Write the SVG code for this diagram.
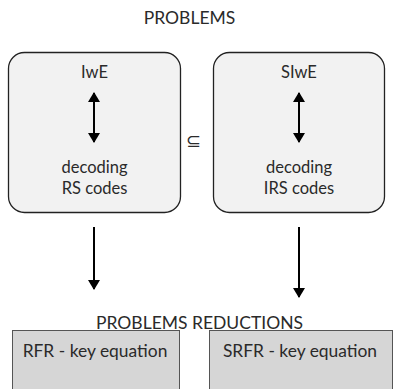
<svg xmlns="http://www.w3.org/2000/svg" width="396" height="389" viewBox="0 0 396 389">
<defs>
<marker id="ah" viewBox="0 0 10 12" refX="9" refY="6" markerWidth="10" markerHeight="12" markerUnits="userSpaceOnUse" orient="auto-start-reverse"><path d="M0,0 L10,6 L0,12 Z" fill="#000"/></marker>
<style>
text{font-family:Lato,"Open Sans",sans-serif;fill:#2a2a2a;text-anchor:middle}
.p{fill:#f2f2f2;stroke:#222;stroke-width:1.3}
.r{fill:#d6d6d6;stroke:#555;stroke-width:1}
.c{stroke:#000;stroke-width:2;fill:none}
.h{font-size:17.5px}
.t{font-size:16.5px}
.b{font-size:17.4px}
</style>
</defs>
<text class="h" x="189.5" y="24">PROBLEMS</text>
<g id="iwe">
<rect class="p" x="8.5" y="52.5" width="172" height="160" rx="16"/>
<text class="t" x="94.5" y="78">IwE</text>
<text class="t" x="94.5" y="173">decoding</text>
<text class="t" x="94.5" y="194">RS codes</text>
</g>
<g id="siwe">
<rect class="p" x="213.5" y="52.5" width="171" height="160" rx="16"/>
<text class="t" x="299" y="78">SIwE</text>
<text class="t" x="299" y="173">decoding</text>
<text class="t" x="299" y="194">IRS codes</text>
</g>
<text x="193.5" y="147" style="font-family:'DejaVu Sans',sans-serif;font-size:18px">⊆</text>
<text class="h" x="199.5" y="329">PROBLEMS REDUCTIONS</text>
<g id="rfr">
<rect class="r" x="12.5" y="330.5" width="167" height="70"/>
<text class="b" x="95" y="357">RFR - key equation</text>
</g>
<g id="srfr">
<rect class="r" x="209.5" y="330.5" width="183" height="70"/>
<text class="b" x="300" y="357">SRFR - key equation</text>
</g>
<g id="connectors">
<line class="c" x1="94" y1="93" x2="94" y2="142" marker-start="url(#ah)" marker-end="url(#ah)"/>
<line class="c" x1="299" y1="93" x2="299" y2="142" marker-start="url(#ah)" marker-end="url(#ah)"/>
<line class="c" x1="94" y1="227" x2="94" y2="289" marker-end="url(#ah)"/>
<line class="c" x1="299" y1="227" x2="299" y2="297" marker-end="url(#ah)"/>
</g>
</svg>
